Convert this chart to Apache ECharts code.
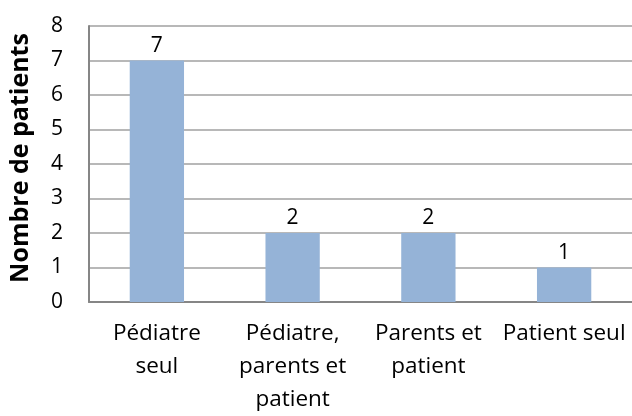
<!DOCTYPE html>
<html>
<head>
<meta charset="utf-8">
<script src="https://cdn.jsdelivr.net/npm/echarts@6/dist/echarts.min.js"></script>
<style>
  html, body { margin: 0; padding: 0; background: #fff; }
  #chart { width: 632px; height: 416px; }
</style>
</head>
<body>
<div id="chart"></div>
<script>
// catégories et valeurs
const categories = ['Pédiatre\nseul', 'Pédiatre,\nparents et\npatient', 'Parents et\npatient', 'Patient seul']
const patients = [7, 2, 2, 1]
const yTicks = [0, 1, 2, 3, 4, 5, 6, 7, 8]

const font = '"Open Sans", "Liberation Sans", sans-serif'

const chart = echarts.init(document.getElementById('chart'))
chart.setOption({
  animation: false,
  grid: { left: 88, right: -7, top: 26, bottom: 110 },
  xAxis: {
    type: 'category',
    data: categories,
    axisLine: { lineStyle: { color: '#868686', width: 2 } },
    axisTick: { show: false },
    axisLabel: {
      color: '#000', fontSize: 22.5, fontFamily: font,
      lineHeight: 33, margin: 15, interval: 0
    }
  },
  yAxis: {
    type: 'value',
    min: yTicks[0],
    max: yTicks[yTicks.length - 1],
    interval: 1,
    name: 'Nombre de patients',
    nameLocation: 'middle',
    nameGap: 56,
    nameTextStyle: {
      color: '#000', fontSize: 25, fontWeight: 'bold', fontFamily: font,
      padding: [0, 0, 0, 12]
    },
    axisLine: { show: true, lineStyle: { color: '#868686', width: 2 } },
    axisTick: { show: false },
    axisLabel: { color: '#000', fontSize: 21, fontFamily: font, margin: 26 },
    splitLine: { lineStyle: { color: '#a0a0a0', width: 1.5 } }
  },
  series: [{
    type: 'bar',
    data: patients,
    barWidth: '40%',
    itemStyle: { color: '#95b3d7' },
    label: {
      show: true, position: 'top', distance: 4,
      color: '#000', fontSize: 21, fontFamily: font
    }
  }]
})
</script>
</body>
</html>
